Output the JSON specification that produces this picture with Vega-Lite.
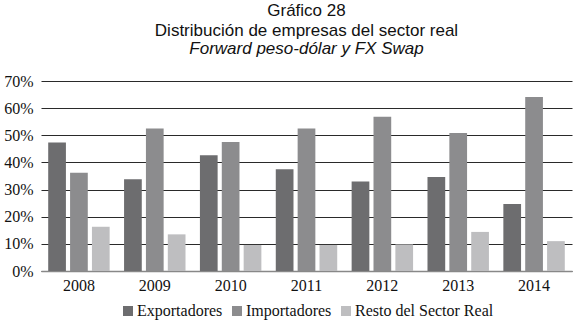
{
  "$schema": "https://vega.github.io/schema/vega-lite/v6.json",
  "autosize": {"type": "fit", "contains": "padding"},
  "width": 574,
  "height": 322,
  "padding": {"left": 3, "right": 2, "top": 2, "bottom": 3},
  "background": "white",
  "title": {
    "text": ["Gráfico 28", "Distribución de empresas del sector real"],
    "subtitle": "Forward peso-dólar y FX Swap",
    "font": "Liberation Sans",
    "fontSize": 17,
    "fontWeight": "normal",
    "lineHeight": 20,
    "color": "#111",
    "subtitleFont": "Liberation Sans",
    "subtitleFontSize": 17,
    "subtitleFontStyle": "italic",
    "subtitleColor": "#111",
    "subtitlePadding": 1,
    "anchor": "middle",
    "offset": 15
  },
  "data": {
    "values": [
      {"year": "2008", "group": "Exportadores", "value": 0.473},
      {"year": "2008", "group": "Importadores", "value": 0.362},
      {"year": "2008", "group": "Resto del Sector Real", "value": 0.163},
      {"year": "2009", "group": "Exportadores", "value": 0.338},
      {"year": "2009", "group": "Importadores", "value": 0.525},
      {"year": "2009", "group": "Resto del Sector Real", "value": 0.135},
      {"year": "2010", "group": "Exportadores", "value": 0.426},
      {"year": "2010", "group": "Importadores", "value": 0.475},
      {"year": "2010", "group": "Resto del Sector Real", "value": 0.096},
      {"year": "2011", "group": "Exportadores", "value": 0.375},
      {"year": "2011", "group": "Importadores", "value": 0.525},
      {"year": "2011", "group": "Resto del Sector Real", "value": 0.096},
      {"year": "2012", "group": "Exportadores", "value": 0.330},
      {"year": "2012", "group": "Importadores", "value": 0.568},
      {"year": "2012", "group": "Resto del Sector Real", "value": 0.098},
      {"year": "2013", "group": "Exportadores", "value": 0.346},
      {"year": "2013", "group": "Importadores", "value": 0.508},
      {"year": "2013", "group": "Resto del Sector Real", "value": 0.144},
      {"year": "2014", "group": "Exportadores", "value": 0.247},
      {"year": "2014", "group": "Importadores", "value": 0.641},
      {"year": "2014", "group": "Resto del Sector Real", "value": 0.110}
    ]
  },
  "mark": {"type": "bar"},
  "encoding": {
    "x": {
      "field": "year",
      "type": "nominal",
      "title": null,
      "scale": {"paddingInner": 0.19, "paddingOuter": 0.095},
      "axis": {
        "labelAngle": 0,
        "labelFont": "Liberation Serif",
        "labelFontSize": 16,
        "labelColor": "#111",
        "ticks": false,
        "labelPadding": 6,
        "domainColor": "#888",
        "domainWidth": 1.5
      }
    },
    "xOffset": {"field": "group", "type": "nominal", "scale": {"paddingInner": 0.19}},
    "y": {
      "field": "value",
      "type": "quantitative",
      "title": null,
      "scale": {"domain": [0, 0.7]},
      "axis": {
        "values": [0, 0.1, 0.2, 0.3, 0.4, 0.5, 0.6, 0.7],
        "format": ".0%",
        "labelFont": "Liberation Serif",
        "labelFontSize": 16,
        "labelColor": "#111",
        "ticks": false,
        "domain": false,
        "labelPadding": 8,
        "gridColor": "#2a2a2a",
        "gridWidth": 1.2
      }
    },
    "color": {
      "field": "group",
      "type": "nominal",
      "title": null,
      "scale": {
        "domain": ["Exportadores", "Importadores", "Resto del Sector Real"],
        "range": ["#6d6d6f", "#8c8c8e", "#bebec0"]
      },
      "legend": {
        "orient": "bottom",
        "direction": "horizontal",
        "symbolType": "square",
        "symbolSize": 100,
        "symbolStrokeWidth": 0,
        "labelFont": "Liberation Serif",
        "labelFontSize": 16,
        "labelColor": "#111",
        "columnPadding": 6,
        "offset": 10,
        "labelOffset": 1
      }
    }
  },
  "config": {
    "view": {"stroke": null},
    "legend": {"layout": {"bottom": {"anchor": "middle"}}}
  }
}
